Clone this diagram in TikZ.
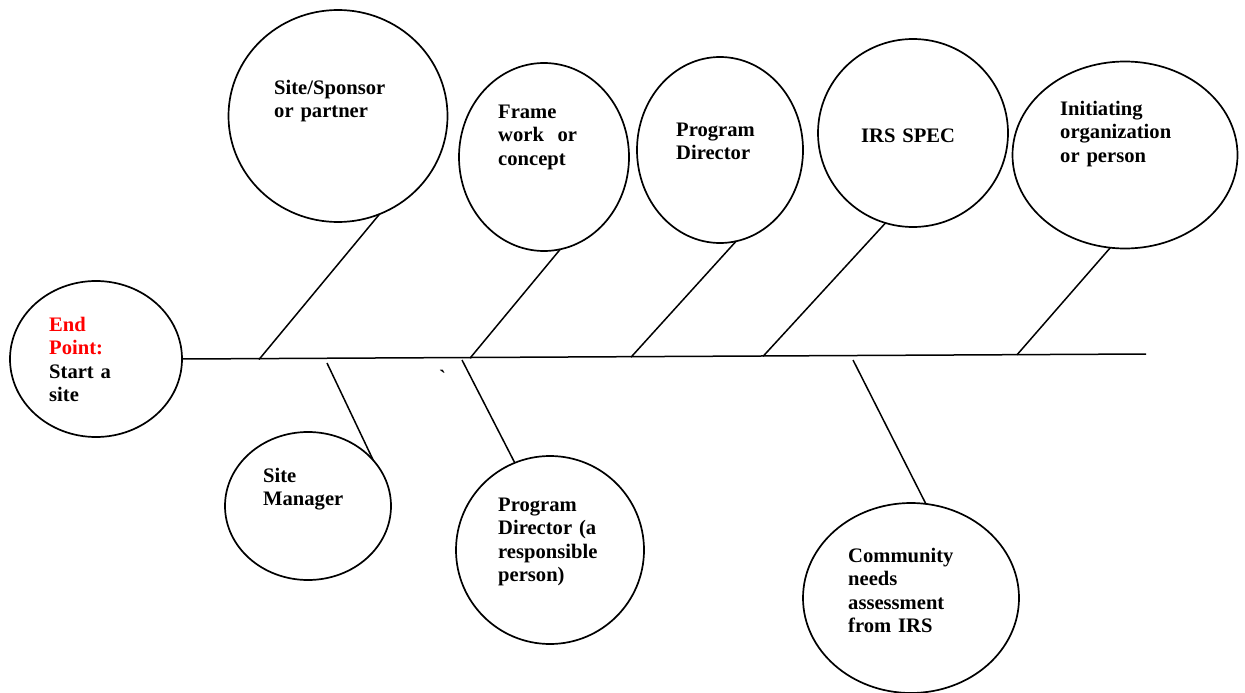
\documentclass[tikz,border=0pt]{standalone}
\usepackage{fontspec}
\setmainfont{Liberation Serif}
\usetikzlibrary{shapes.geometric}
\definecolor{endred}{RGB}{255,0,0}
\begin{document}
\begin{tikzpicture}[x=1pt,y=-1pt,
  oval/.style={draw,ellipse,line width=1.7pt,inner sep=0pt,outer sep=0pt},
  lbl/.style={anchor=base west,inner sep=0pt,text width=220pt,align=left,
              font=\fontsize{20.6}{23.5}\selectfont\bfseries},
  bone/.style={line width=1.5pt}]
\useasboundingbox[fill=white] (0,0) rectangle (1245,693);

% ellipses
\node[oval,minimum width=172pt,minimum height=156pt] (ep) at (96,359) {};
\node[oval,minimum width=219pt,minimum height=212pt] (ss) at (338,116) {};
\node[oval,minimum width=170pt,minimum height=188pt] (fw) at (544,157) {};
\node[oval,minimum width=166pt,minimum height=186pt] (pd) at (720,150) {};
\node[oval,minimum width=190pt,minimum height=188pt] (irs) at (913,133) {};
\node[oval,minimum width=225pt,minimum height=187pt] (ini) at (1125,155) {};
\node[oval,minimum width=166pt,minimum height=148pt] (sm) at (308,506) {};
\node[oval,minimum width=188pt,minimum height=188pt] (pdr) at (550,550) {};
\node[oval,minimum width=216pt,minimum height=190pt] (cna) at (911,598) {};

% texts
\node[lbl] (tep) at (49,331) {\textcolor{endred}{End\\Point:}\\Start a\\site};
\node[lbl] (tss) at (274,94) {Site/Sponsor\\or partner};
\node[lbl] (tfw) at (498,118) {Frame\\work\ \ or\\concept};
\node[lbl] (tpd) at (676,136) {Program\\Director};
\node[lbl] (tirs) at (861,142) {IRS SPEC};
\node[lbl] (tini) at (1060,115) {Initiating\\organization\\or person};
\node[lbl] (tsm) at (263,482) {Site\\Manager};
\node[lbl] (tpdr) at (498,511) {Program\\Director (a\\responsible\\person)};
\node[lbl] (tcna) at (848,562) {Community\\needs\\assessment\\from IRS};
\node[lbl,text width=10pt] (tick) at (439,384) {\textasciigrave};

% spine
\coordinate (spend) at (1146,354);
\draw[bone] (ep.east) -- (spend);

% spine attachment points
\coordinate (a1) at (259,359.5);
\coordinate (a2) at (470,358.2);
\coordinate (a3) at (631,357.2);
\coordinate (a4) at (763,356.4);
\coordinate (a5) at (1017,354.8);
\coordinate (b1) at (327,363);
\coordinate (b2) at (462,360);
\coordinate (b3) at (853,360);

% bones
\draw[bone] (ss.293.5) -- (a1);
\draw[bone] (fw.280) -- (a2);
\draw[bone] (pd.280) -- (a3);
\draw[bone] (irs.253.6) -- (a4);
\draw[bone] (ini.261.5) -- (a5);
\draw[bone] (b1) -- (sm.35.3);
\draw[bone] (b2) -- (pdr.112.4);
\draw[bone] (b3) -- (cna.81);
\end{tikzpicture}
\end{document}
